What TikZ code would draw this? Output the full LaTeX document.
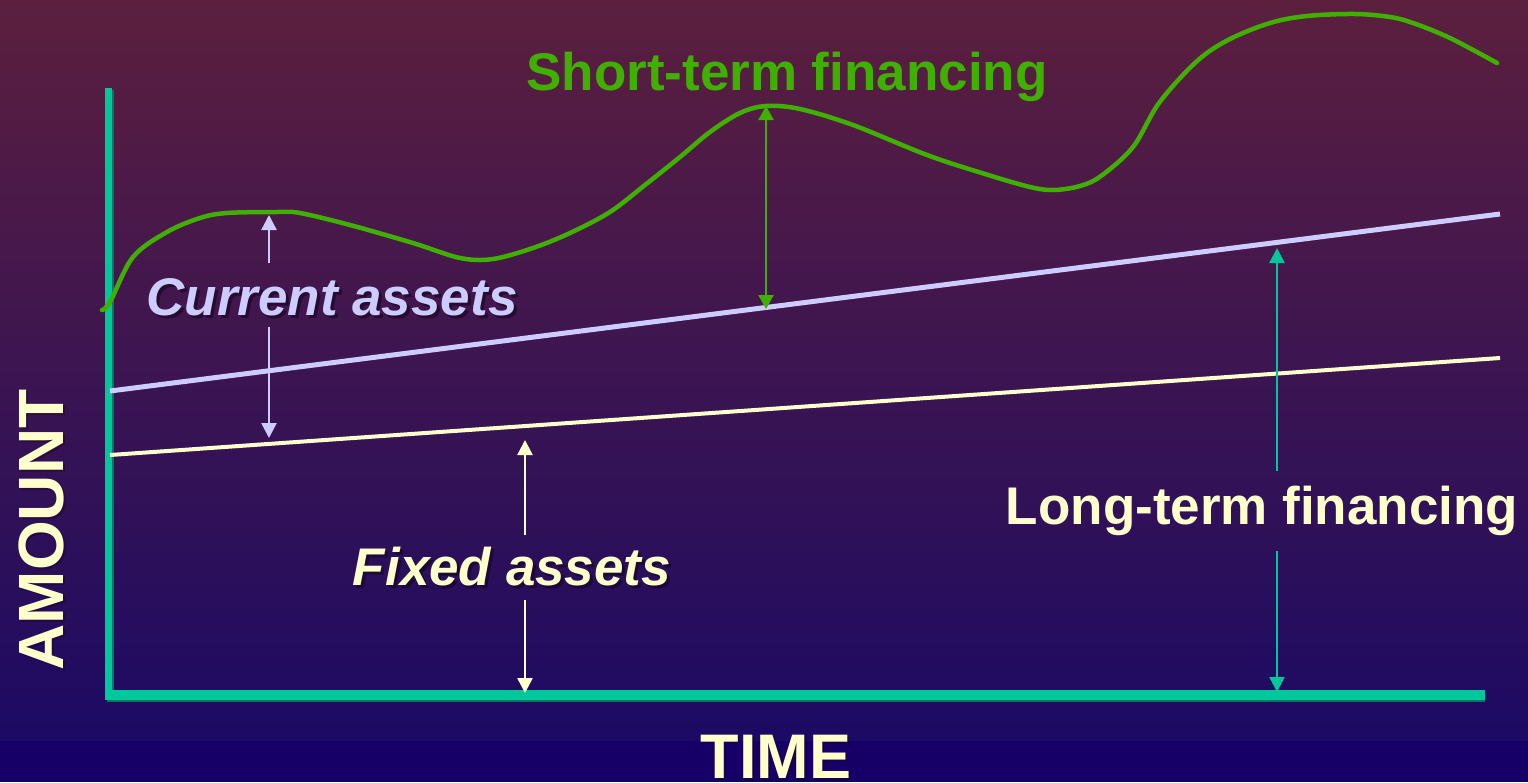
\documentclass[tikz,border=0pt]{standalone}
\usepackage{fontspec}
\setmainfont{Liberation Sans}
\usetikzlibrary{arrows.meta}
\definecolor{bgtop}{RGB}{92,31,62}
\definecolor{bgmid}{RGB}{64,24,88}
\definecolor{bgbot}{RGB}{28,10,100}
\definecolor{bgband}{RGB}{22,0,104}
\definecolor{axisc}{RGB}{0,200,155}
\definecolor{axisdark}{RGB}{0,120,100}
\definecolor{curvec}{RGB}{64,176,0}
\definecolor{lavc}{RGB}{204,204,255}
\definecolor{creamc}{RGB}{255,255,204}
\definecolor{shadc}{RGB}{20,5,30}
\tikzset{
  lbl/.style={inner sep=0pt, anchor=base, font=\fontsize{53}{60}\selectfont\bfseries},
  shd/.style={lbl, text=shadc, opacity=0.6},
  arr/.style={line width=2.5pt, -{Triangle[length=15pt,width=15pt]}},
  dbl/.style={line width=2.5pt, {Triangle[length=14pt,width=15pt]}-{Triangle[length=14pt,width=15pt]}}
}
\begin{document}
\begin{tikzpicture}[x=1pt,y=-1pt]
\path[use as bounding box] (0,0) rectangle (1528,782);
\fill[top color=bgtop, middle color=bgmid, bottom color=bgbot] (0,0) rectangle (1528,741);
\fill[bgband] (0,741) rectangle (1528,782);

% axes
\coordinate (ytop) at (108,88);
\coordinate (ybot) at (108,693);
\coordinate (xleft) at (105,695);
\coordinate (xright) at (1485,695);
\draw[axisdark, line width=7pt] ([shift={(2,2)}]ytop) -- ([shift={(2,2)}]ybot);
\draw[axisdark, line width=10pt] ([shift={(2,2)}]xleft) -- ([shift={(0,2)}]xright);
\draw[axisc, line width=7pt] (ytop) -- (ybot);
\draw[axisc, line width=10pt] (xleft) -- (xright);

% level lines
\coordinate (lavA) at (110,391);
\coordinate (lavB) at (1500,214);
\coordinate (crA) at (110,455);
\coordinate (crB) at (1500,358);
\draw[lavc, line width=5pt] (lavA) -- (lavB);
\draw[creamc, line width=4pt] (crA) -- (crB);

% short-term financing curve
\draw[curvec, line width=4.5pt, line cap=round, line join=round] plot[smooth, tension=0.55] coordinates {
(102,310) (110,302) (133,257) (167,232) (200,218) (227,213) (277,212) (300,213)
(350,225) (413,243) (460,258) (493,259) (533,248) (570,233) (610,212)
(645,185) (680,157) (710,132) (740,113) (766,106) (800,109) (853,125)
(927,155) (985,174) (1030,187) (1054,190) (1080,186) (1101,176) (1133,147)
(1159,103) (1196,62) (1228,40) (1270,23) (1307,16) (1355,14) (1390,17)
(1413,23) (1450,38) (1497,63)};

% labels
\node[shd, text=shadc] (curS) at (335,318) {\itshape Current assets};
\node[lbl, text=lavc] (cur) at (332,315) {\itshape Current assets};
\node[shd] (fixS) at (515,588) {\itshape Fixed assets};
\node[lbl, text=creamc] (fix) at (512,585) {\itshape Fixed assets};
\node[lbl, text=curvec] (stf) at (787,90) {Short-term financing};
\node[lbl, text=creamc] (ltf) at (1262,524) {Long-term financing};
\node[shd, font=\fontsize{64}{70}\selectfont\bfseries, rotate=90, opacity=0.4] (amtS) at (65,532) {AMOUNT};
\node[lbl, text=creamc, font=\fontsize{64}{70}\selectfont\bfseries, rotate=90] (amt) at (63,530) {AMOUNT};
\node[shd, font=\fontsize{63}{70}\selectfont\bfseries, opacity=0.4] (timeS) at (778,780) {TIME};
\node[lbl, text=creamc, font=\fontsize{63}{70}\selectfont\bfseries] (time) at (776,778) {TIME};

% arrows: current assets
\coordinate (caT) at (269,263);
\coordinate (caTip) at (269,215);
\coordinate (caB) at (269,327);
\coordinate (caBtip) at (269,438);
\draw[arr, lavc] (caT) -- (caTip);
\draw[arr, lavc] (caB) -- (caBtip);

% arrows: fixed assets
\coordinate (faT) at (525,535);
\coordinate (faTip) at (525,440);
\coordinate (faB) at (525,600);
\coordinate (faBtip) at (525,693);
\draw[arr, creamc] (faT) -- (faTip);
\draw[arr, creamc] (faB) -- (faBtip);

% arrow: short-term financing
\coordinate (stTop) at (766,106);
\coordinate (stBot) at (766,309);
\draw[dbl, curvec] (stTop) -- (stBot);

% arrows: long-term financing
\coordinate (ltT) at (1277,471);
\coordinate (ltTip) at (1277,248);
\coordinate (ltB) at (1277,551);
\coordinate (ltBtip) at (1277,692);
\draw[arr, axisc] (ltT) -- (ltTip);
\draw[arr, axisc] (ltB) -- (ltBtip);
\end{tikzpicture}
\end{document}
